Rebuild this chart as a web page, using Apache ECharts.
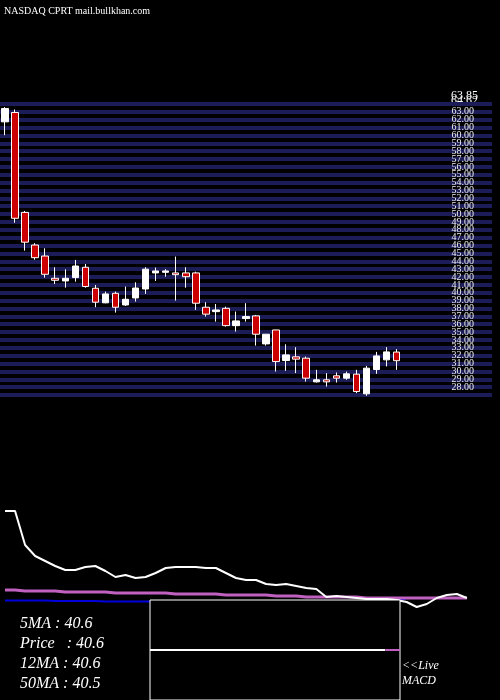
<!DOCTYPE html>
<html>
<head>
<meta charset="utf-8">
<script src="https://cdn.jsdelivr.net/npm/echarts@6/dist/echarts.min.js"></script>
<style>html,body{margin:0;background:#000}#c{width:500px;height:700px}</style>
</head>
<body>
<div id="c"></div>
<script>
// candles: [open, close, low, high]
let candles = [
	[61.73, 63.43, 60.04, 63.6], [62.92, 49.47, 48.9, 63.3], [50.22, 46.43, 45.35, 50.4],
	[46.07, 44.46, 44.2, 46.3], [44.67, 42.35, 41.92, 45.65], [41.84, 41.59, 41.12, 43.24],
	[41.5, 41.84, 40.65, 42.98], [41.93, 43.4, 41.41, 44.18], [43.24, 40.79, 40.65, 43.66],
	[40.57, 38.8, 38.16, 40.99], [38.72, 39.85, 38.67, 40.15], [39.93, 38.16, 37.48, 40.15],
	[38.45, 39.17, 38.32, 40.79], [39.34, 40.6, 38.88, 41.33], [40.48, 43.0, 39.85, 43.24],
	[42.52, 42.77, 41.5, 43.2], [42.6, 42.77, 42.04, 43.0], [42.52, 42.3, 39.0, 44.6],
	[42.52, 42.04, 40.65, 43.24], [42.52, 38.67, 37.81, 42.68], [38.16, 37.28, 36.97, 38.8],
	[37.6, 37.81, 36.33, 38.57], [38.02, 35.82, 35.7, 38.24], [35.82, 36.42, 35.06, 37.61],
	[36.72, 36.97, 36.33, 38.67], [37.06, 34.73, 33.28, 37.18], [33.5, 34.73, 33.28, 34.73],
	[35.27, 31.25, 29.98, 35.3], [31.38, 32.1, 30.07, 33.45], [31.85, 31.56, 29.78, 33.08],
	[31.68, 29.14, 28.71, 31.89], [28.67, 28.93, 28.58, 30.2], [28.93, 28.67, 28.07, 29.78],
	[29.44, 29.14, 28.58, 29.86], [29.14, 29.69, 28.93, 29.98], [29.65, 27.44, 27.24, 30.2],
	[27.15, 30.41, 26.9, 30.7], [30.24, 31.97, 29.69, 32.48], [31.47, 32.48, 30.63, 33.08],
	[32.46, 31.36, 30.2, 32.83]
];
let days = [];
for (let i = 0; i < 49; i++) days.push("d" + i);

// indicator panel values
let fastLine = [99, 99, 65, 54, 49, 44, 40, 40, 43, 44, 39, 33, 35, 32, 33, 37, 42, 43, 43, 43,
	42, 42, 37, 32, 30, 30, 26, 25, 26, 24, 22, 21, 13, 14, 13, 12, 11, 11, 11, 10, 8, 3, 6, 12, 15, 16, 12];
let slowLine = [20, 20, 19, 19, 19, 19, 18, 18, 18, 18, 18, 17, 17, 17, 17, 17, 17, 16, 16, 16,
	16, 16, 15, 15, 15, 15, 15, 14, 14, 14, 13, 13, 13, 13, 13, 13, 12, 12, 12, 12, 12, 12, 12, 12, 12, 12, 12];
let baseLine = [9.5, 9.5, 9.5, 9.5, 9.5, 9, 9, 9, 9, 9, 8.5, 8.5, 8.5, 8.5, 8.5, 8.5, 8.5, 8.5, 8.5, 8.5,
	8.5, 8.5, 8.5, 8.5, 8.5, 8.5, 8.5, 8.5, 8.5, 8.5, 8.5, 8.5, 8.5, 8.5, 8.5, 8.5, 8.5, 8.5, 8.5, 8.5, 12, 12, 12, 12, 12, 12, 12];
let macdWhite = [0, 0, 0, 0, 0, 0, 0, 0, 0, 0, 0, 0, 0, 0, 0, 0, 0, null];
let macdPink = [null, null, null, null, null, null, null, null, null, null, null, null, null, null, null, null, 0, 0];
let macdX = macdWhite.map((v, i) => i);

let readouts = ["5MA : 40.6", "Price   : 40.6", "12MA : 40.6", "50MA : 40.5"];

let myChart = echarts.init(document.getElementById("c"));
let serif = "Liberation Serif";
let option = {
	backgroundColor: "#000",
	animation: false,
	grid: [
		{ left: -3, width: 495, top: 104, height: 291 },
		{ left: -3, width: 495, top: 500, height: 110 },
		{ left: 150, width: 250, top: 600, height: 110, show: true, borderColor: "#fff", borderWidth: 1, backgroundColor: "#000", z: 5 }
	],
	xAxis: [
		{ type: "category", data: days, gridIndex: 0, show: false },
		{ type: "category", data: days, gridIndex: 1, show: false },
		{ type: "category", data: macdX, gridIndex: 2, show: false, boundaryGap: false }
	],
	yAxis: [
		{
			type: "value", gridIndex: 0, min: 27, max: 64, interval: 1, position: "right",
			axisLine: { show: false }, axisTick: { show: false },
			splitLine: { lineStyle: { color: "#1c1c58", width: 4 } },
			axisLabel: { inside: true, margin: 18, color: "#eee", fontSize: 10, fontFamily: serif,
				formatter: v => (v === 64 || v === 27 ? "" : v.toFixed(2)) }
		},
		{ type: "value", gridIndex: 1, min: 0, max: 110, show: false },
		{ type: "value", gridIndex: 2, min: -1, max: 1, show: false }
	],
	series: [
		{
			type: "candlestick", xAxisIndex: 0, yAxisIndex: 0, data: candles, barWidth: 7,
			itemStyle: { color: "#fff", color0: "#cc0000", borderColor: "#fff", borderColor0: "#fff", borderWidth: 1 }
		},
		{ type: "line", xAxisIndex: 1, yAxisIndex: 1, data: baseLine, symbol: "none", lineStyle: { color: "#0000dd", width: 2 } },
		{ type: "line", xAxisIndex: 1, yAxisIndex: 1, data: slowLine, symbol: "none", lineStyle: { color: "#c060c0", width: 3 } },
		{ type: "line", xAxisIndex: 1, yAxisIndex: 1, data: fastLine, symbol: "none", lineStyle: { color: "#fff", width: 2 } },
		{ type: "line", xAxisIndex: 2, yAxisIndex: 2, data: macdWhite, symbol: "none", z: 10, lineStyle: { color: "#fff", width: 2 } },
		{ type: "line", xAxisIndex: 2, yAxisIndex: 2, data: macdPink, symbol: "none", z: 10, lineStyle: { color: "#c060c0", width: 2 } }
	],
	graphic: [
		{ type: "text", left: 4, top: 6, style: { text: "NASDAQ CPRT mail.bullkhan.com", fill: "#fff", font: "10px " + serif } },
		{ type: "text", left: 451, top: 90, style: { text: "63.85", fill: "#fff", font: "12px " + serif } },
		{ type: "text", left: 451, top: 95, style: { text: "64.62", fill: "#fff", font: "12px " + serif } },
		{ type: "text", left: 402, top: 658, style: { text: "<<Live\nMACD", fill: "#fff", lineHeight: 15, font: "italic 12px " + serif } }
	].concat(readouts.map((t, i) => ({
		type: "text", left: 20, top: 616 + i * 20,
		style: { text: t, fill: "#fff", font: "italic 16px " + serif }
	})))
};
myChart.setOption(option);
</script>
</body>
</html>
